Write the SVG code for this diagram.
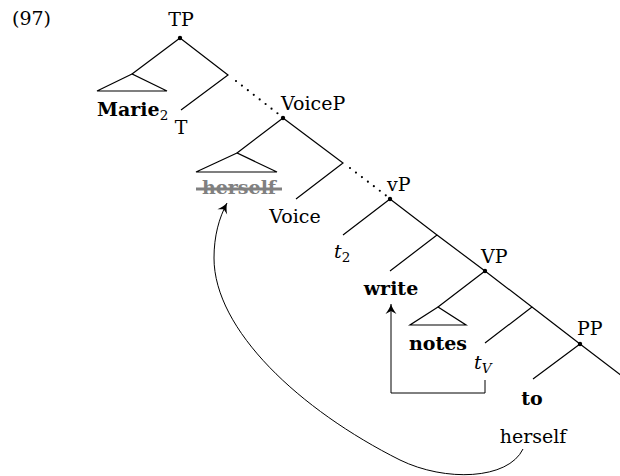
<svg xmlns="http://www.w3.org/2000/svg" width="620" height="476" viewBox="0 0 620 476">
<style>
text{font-family:"DejaVu Serif","Liberation Serif",serif;font-size:19px;fill:#000}
.b{font-weight:bold}
.i{font-style:italic}
.m{text-anchor:middle}
.sub{font-size:13.5px}
.e{stroke:#000;stroke-width:1.2;fill:none}
.d{stroke:#000;stroke-width:2.2;fill:none;stroke-linecap:round;stroke-dasharray:0 7.5}
.tri{stroke:#000;stroke-width:1.2;fill:none;stroke-linejoin:miter}
.a{stroke:#000;stroke-width:1;fill:none}
.dot{fill:#000}
.gray{fill:#808080}
</style>
<defs>
<marker id="arr" markerUnits="userSpaceOnUse" markerWidth="14" markerHeight="14" viewBox="-12 -7 14 14" refX="0" refY="0" orient="auto">
<path d="M0,0 C-3,-1 -7,-3 -10,-5.5 L-7,0 L-10,5.5 C-7,3 -3,1 0,0 Z" fill="#000"/>
</marker>
</defs>
<text x="12" y="25">(97)</text>
<g id="connectors">
<path class="e" d="M180 38 L132 74 M180 38 L228 75 L181 110"/>
<path class="d" d="M236 81 L281 116"/>
<path class="e" d="M283 118 L237 153 M283 118 L343 163 L296 199"/>
<path class="d" d="M350 168 L388 197"/>
<path class="e" d="M390 199 L343 235 M390 199 L437 235 L390 271 M437 235 L485 271"/>
<path class="e" d="M485 271 L438 307 M485 271 L532 307 L485 343 M532 307 L580 344"/>
<path class="e" d="M580 344 L533 379 M580 344 L626 379"/>
<path class="a" d="M485 380 V393 H391 V304" marker-end="url(#arr)"/>
<path class="a" d="M523 449 C508 480 445 482 400 460 C300 410 214 330 214 258 C214 236 219 218 227 203" marker-end="url(#arr)"/>
</g>
<g id="TP"><circle class="dot" cx="180" cy="38" r="2.2"/><text class="m" x="181" y="26">TP</text></g>
<g id="Marie"><path class="tri" d="M132 74 L97 91 L167 91 Z"/><text class="b" x="97" y="116">Marie<tspan class="sub" font-weight="normal" dy="4">2</tspan></text></g>
<g id="T"><text class="m" x="181" y="134">T</text></g>
<g id="VoiceP"><circle class="dot" cx="283" cy="118" r="2.2"/><text x="281" y="110">VoiceP</text></g>
<g id="herself-struck"><path class="tri" d="M237 153 L196 172 L277 172 Z"/><text class="b m gray" x="239" y="194">herself</text><line x1="196" y1="189" x2="282" y2="189" stroke="#808080" stroke-width="3"/></g>
<g id="Voice"><text class="m" x="295" y="223">Voice</text></g>
<g id="vP"><circle class="dot" cx="390" cy="199" r="2.2"/><text x="387" y="191">vP</text></g>
<g id="t2"><text class="i" x="334" y="258">t<tspan class="sub" font-style="normal" dy="4">2</tspan></text></g>
<g id="write"><text class="b m" x="391" y="295">write</text></g>
<g id="VP"><circle class="dot" cx="485" cy="271" r="2.2"/><text x="481" y="263">VP</text></g>
<g id="notes"><path class="tri" d="M438 307 L410 325 L466 325 Z"/><text class="b m" x="438" y="350">notes</text></g>
<g id="tV"><text class="i" x="474" y="369">t<tspan class="sub" dy="4">V</tspan></text></g>
<g id="PP"><circle class="dot" cx="580" cy="344" r="2.2"/><text x="577" y="335">PP</text></g>
<g id="to"><text class="b m" x="532" y="405">to</text></g>
<g id="herself"><text class="m" x="533" y="443">herself</text></g>
</svg>
